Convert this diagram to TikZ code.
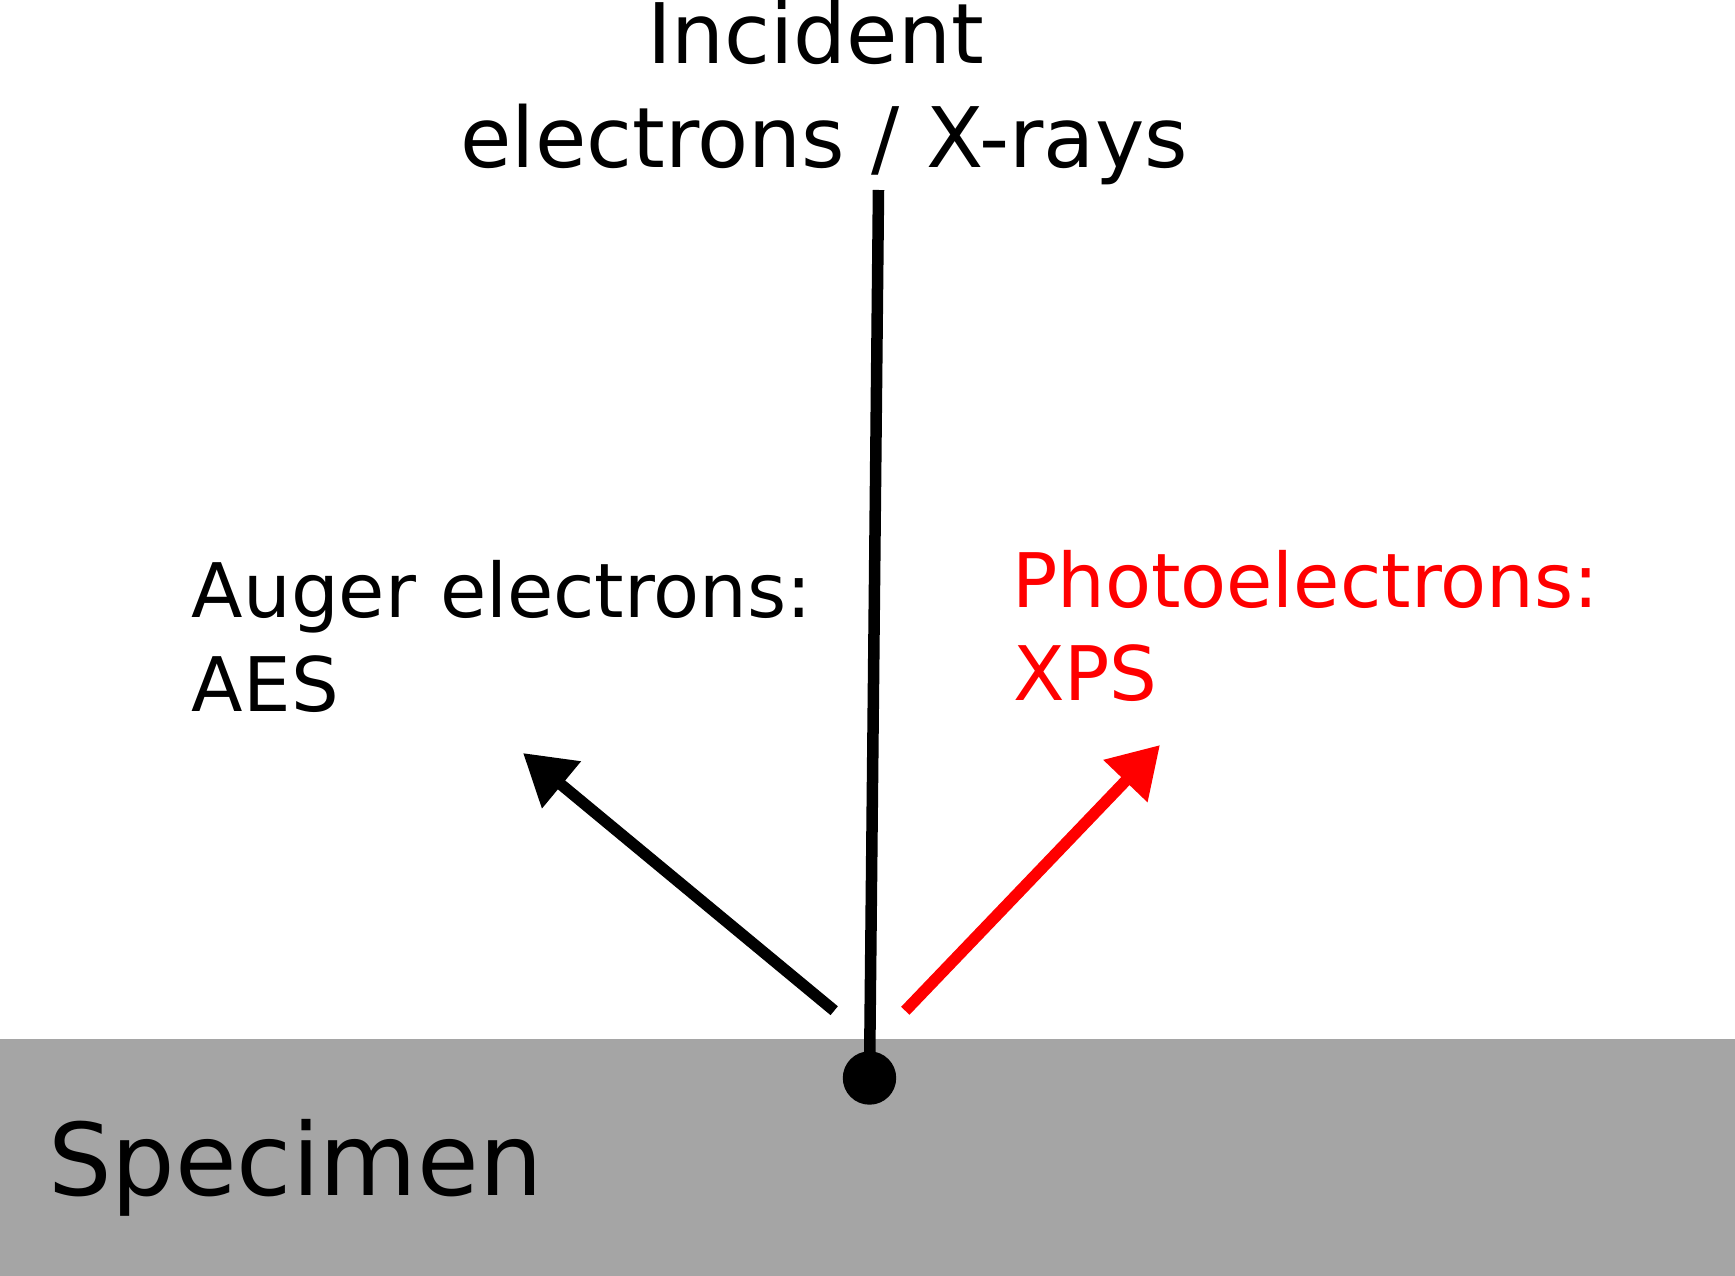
\documentclass[tikz,border=0pt]{standalone}
\usepackage{fontspec}
\setmainfont{DejaVu Sans}
\usetikzlibrary{arrows.meta}
\definecolor{specgray}{RGB}{165,165,165}
\definecolor{xpsred}{RGB}{255,0,0}
\tikzset{
  lbl/.style={inner sep=0pt, outer sep=0pt, anchor=base west},
  ray/.style={line width=0.115cm},
  emit/.style={ray, -{Triangle[length=0.5cm,width=0.58cm]}},
}
\begin{document}
\begin{tikzpicture}[x=0.01cm,y=-0.01cm]
\useasboundingbox (0,0) rectangle (1735,1276);
\fill[white] (0,0) rectangle (1735,1276);
\fill[specgray] (0,1039) rectangle (1735,1276);
% texts
\node[lbl, font=\fontsize{23.75pt}{29pt}\selectfont] (inc1) at (647,64) {Incident};
\node[lbl, font=\fontsize{23.75pt}{29pt}\selectfont] (inc2) at (460.5,168) {electrons / X-rays};
\node[lbl, font=\fontsize{21.4pt}{26pt}\selectfont] (aug1) at (192,617.7) {Auger electrons:};
\node[lbl, font=\fontsize{21.4pt}{26pt}\selectfont] (aug2) at (192,711.7) {AES};
\node[lbl, font=\fontsize{21.4pt}{26pt}\selectfont, text=xpsred] (ph1) at (1012,607.3) {Photoelectrons:};
\node[lbl, font=\fontsize{21.4pt}{26pt}\selectfont, text=xpsred] (ph2) at (1013,701) {XPS};
\node[lbl, font=\fontsize{28.5pt}{34pt}\selectfont] (spec) at (48,1195.7) {Specimen};
% impact point
\node[circle, fill=black, minimum size=0.534cm, inner sep=0pt] (dot) at (869.5,1078) {};
\coordinate (beamtop) at (878.5,190);
\draw[ray, line cap=butt] (beamtop) -- (dot.center);
% emitted electrons
\coordinate (augstart) at (834.2,1010.7);
\coordinate (augtip) at (523,753);
\coordinate (phstart) at (905.3,1010.8);
\coordinate (phtip) at (1160,745);
\draw[emit] (augstart) -- (augtip);
\draw[emit, draw=xpsred, fill=xpsred] (phstart) -- (phtip);
\end{tikzpicture}
\end{document}
